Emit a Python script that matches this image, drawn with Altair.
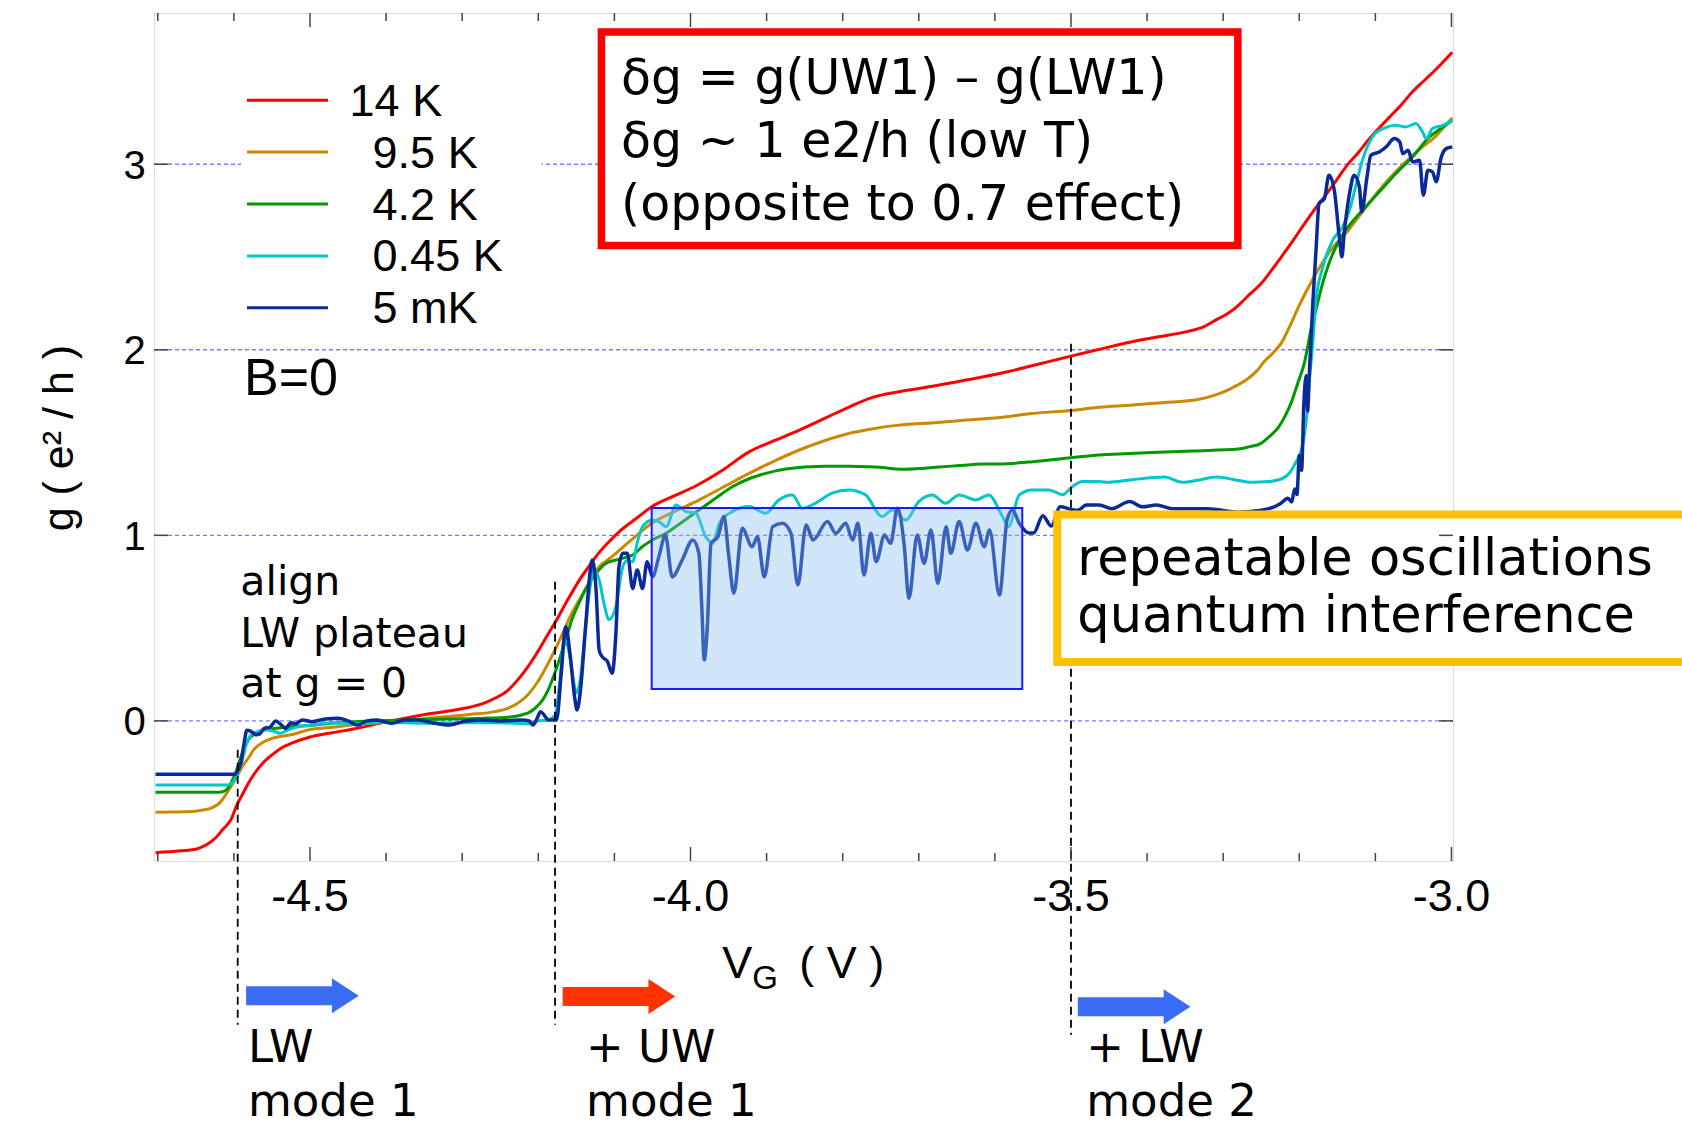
import altair as alt
import pandas as pd

# ---------------- data (V_G in volts, g in e^2/h) ----------------
SERIES = ["14 K", "9.5 K", "4.2 K", "0.45 K", "5 mK"]
COLORS = ["#ff0000", "#cc8800", "#009900", "#00c8c8", "#0a2a99"]
WIDTHS = [3, 3, 3, 3, 3.5]

RED_14K = [(-4.703,-0.710),(-4.670,-0.700),(-4.649,-0.690),(-4.635,-0.665),(-4.624,-0.630),(-4.615,-0.587),
    (-4.604,-0.533),(-4.596,-0.452),(-4.588,-0.390),(-4.581,-0.336),(-4.574,-0.290),(-4.560,-0.219),(-4.549,-0.180),
    (-4.538,-0.147),(-4.524,-0.120),(-4.501,-0.088),(-4.473,-0.065),(-4.448,-0.048),(-4.398,-0.004),(-4.347,0.036),
    (-4.297,0.068),(-4.275,0.090),(-4.257,0.122),(-4.240,0.165),(-4.227,0.221),(-4.214,0.290),(-4.202,0.365),
    (-4.189,0.455),(-4.176,0.544),(-4.161,0.655),(-4.146,0.759),(-4.133,0.835),(-4.121,0.903),(-4.106,0.970),
    (-4.091,1.029),(-4.070,1.095),(-4.051,1.154),(-4.020,1.215),(-3.995,1.262),(-3.960,1.345),(-3.923,1.450),
    (-3.890,1.510),(-3.857,1.567),(-3.824,1.630),(-3.791,1.693),(-3.760,1.745),(-3.726,1.774),(-3.680,1.805),
    (-3.638,1.837),(-3.594,1.872),(-3.550,1.915),(-3.500,1.966),(-3.460,2.005),(-3.423,2.041),(-3.385,2.070),
    (-3.348,2.098),(-3.325,2.125),(-3.308,2.164),(-3.294,2.195),(-3.280,2.240),(-3.265,2.300),(-3.251,2.353),
    (-3.237,2.425),(-3.223,2.504),(-3.208,2.590),(-3.194,2.674),(-3.180,2.755),(-3.165,2.835),(-3.151,2.915),
    (-3.137,2.995),(-3.122,3.065),(-3.108,3.137),(-3.094,3.200),(-3.080,3.260),(-3.065,3.325),(-3.051,3.392),
    (-3.036,3.450),(-3.022,3.505),(-2.999,3.604)]

ORANGE_9K5 = [(-4.703,-0.492),(-4.660,-0.490),(-4.639,-0.479),(-4.630,-0.470),(-4.619,-0.443),(-4.611,-0.400),
    (-4.604,-0.354),(-4.596,-0.300),(-4.589,-0.246),(-4.581,-0.200),(-4.574,-0.156),(-4.560,-0.111),(-4.549,-0.093),
    (-4.525,-0.075),(-4.501,-0.048),(-4.473,-0.035),(-4.423,-0.013),(-4.370,0.005),(-4.322,0.023),(-4.290,0.035),
    (-4.257,0.050),(-4.240,0.068),(-4.227,0.095),(-4.214,0.140),(-4.202,0.203),(-4.189,0.295),(-4.176,0.400),
    (-4.166,0.490),(-4.156,0.580),(-4.143,0.675),(-4.131,0.759),(-4.120,0.831),(-4.108,0.870),(-4.096,0.910),
    (-4.075,0.985),(-4.051,1.065),(-4.020,1.130),(-3.989,1.190),(-3.956,1.262),(-3.923,1.334),(-3.890,1.400),
    (-3.857,1.460),(-3.824,1.510),(-3.791,1.550),(-3.760,1.575),(-3.726,1.594),(-3.680,1.607),(-3.638,1.621),
    (-3.594,1.635),(-3.551,1.657),(-3.500,1.673),(-3.463,1.690),(-3.423,1.701),(-3.380,1.715),(-3.337,1.729),
    (-3.315,1.750),(-3.297,1.777),(-3.282,1.808),(-3.268,1.843),(-3.256,1.885),(-3.246,1.937),(-3.234,1.985),
    (-3.223,2.040),(-3.211,2.140),(-3.200,2.240),(-3.183,2.375),(-3.171,2.460),(-3.160,2.530),(-3.139,2.627),
    (-3.125,2.700),(-3.095,2.860),(-3.073,2.960),(-3.051,3.048),(-3.036,3.100),(-3.022,3.146),(-3.010,3.200),
    (-2.999,3.250)]

GREEN_4K2 = [(-4.703,-0.384),(-4.640,-0.384),(-4.619,-0.384),(-4.611,-0.375),(-4.604,-0.336),(-4.597,-0.270),
    (-4.589,-0.174),(-4.581,-0.102),(-4.571,-0.066),(-4.559,-0.048),(-4.545,-0.040),(-4.524,-0.030),(-4.501,-0.025),
    (-4.473,-0.013),(-4.420,0.000),(-4.373,0.005),(-4.320,0.010),(-4.272,0.014),(-4.240,0.020),(-4.222,0.032),
    (-4.210,0.050),(-4.202,0.077),(-4.194,0.115),(-4.187,0.167),(-4.179,0.250),(-4.171,0.346),(-4.163,0.450),
    (-4.156,0.544),(-4.146,0.640),(-4.136,0.723),(-4.124,0.795),(-4.111,0.849),(-4.098,0.867),(-4.086,0.880),
    (-4.076,0.894),(-4.063,0.940),(-4.050,0.975),(-4.032,1.011),(-4.010,1.075),(-3.989,1.136),(-3.967,1.200),
    (-3.945,1.262),(-3.923,1.305),(-3.901,1.334),(-3.879,1.355),(-3.857,1.366),(-3.824,1.372),(-3.791,1.373),
    (-3.770,1.370),(-3.748,1.366),(-3.730,1.358),(-3.717,1.356),(-3.700,1.360),(-3.682,1.366),(-3.650,1.375),
    (-3.616,1.384),(-3.594,1.385),(-3.550,1.397),(-3.500,1.418),(-3.463,1.433),(-3.430,1.440),(-3.394,1.446),
    (-3.340,1.455),(-3.280,1.465),(-3.265,1.478),(-3.251,1.494),(-3.240,1.530),(-3.228,1.579),(-3.219,1.640),
    (-3.211,1.711),(-3.202,1.820),(-3.194,1.918),(-3.183,2.140),(-3.176,2.250),(-3.171,2.334),(-3.161,2.465),
    (-3.150,2.570),(-3.137,2.655),(-3.117,2.752),(-3.095,2.850),(-3.073,2.950),(-3.051,3.040),(-3.029,3.147),
    (-3.015,3.190),(-2.999,3.235)]

CYAN_045K = [(-4.703,-0.345),(-4.640,-0.345),(-4.609,-0.345),(-4.599,-0.318),(-4.594,-0.270),(-4.589,-0.210),
    (-4.584,-0.130),(-4.579,-0.084),(-4.570,-0.060),(-4.559,-0.048),(-4.549,-0.055),(-4.539,-0.066),(-4.527,-0.045),
    (-4.514,-0.030),(-4.501,-0.025),(-4.473,-0.010),(-4.440,-0.015),(-4.400,-0.008),(-4.350,-0.012),(-4.300,-0.010),
    (-4.260,-0.010),(-4.230,-0.012),(-4.212,-0.016),(-4.200,0.000),(-4.188,0.005),(-4.178,0.030),(-4.172,0.200),
    (-4.166,0.440),(-4.160,0.380),(-4.154,0.220),(-4.150,0.150),(-4.145,0.220),(-4.138,0.500),(-4.132,0.720),
    (-4.127,0.813),(-4.120,0.760),(-4.113,0.620),(-4.107,0.546),(-4.098,0.617),(-4.089,0.831),(-4.083,0.865),
    (-4.076,0.858),(-4.070,0.960),(-4.063,1.047),(-4.050,1.083),(-4.040,1.070),(-4.032,1.047),(-4.019,1.164),
    (-4.006,1.128),(-3.993,1.119),(-3.980,0.993),(-3.971,0.957),(-3.962,1.065),(-3.945,1.128),(-3.923,1.155),
    (-3.901,1.119),(-3.884,1.191),(-3.866,1.218),(-3.853,1.146),(-3.836,1.173),(-3.814,1.227),(-3.792,1.245),
    (-3.770,1.218),(-3.748,1.101),(-3.735,1.137),(-3.717,1.083),(-3.700,1.182),(-3.682,1.218),(-3.665,1.173),
    (-3.647,1.218),(-3.625,1.191),(-3.608,1.218),(-3.590,1.101),(-3.582,1.047),(-3.568,1.218),(-3.551,1.245),
    (-3.529,1.245),(-3.511,1.219),(-3.498,1.263),(-3.485,1.290),(-3.463,1.290),(-3.451,1.286),(-3.420,1.300),
    (-3.377,1.314),(-3.354,1.286),(-3.330,1.300),(-3.308,1.314),(-3.285,1.300),(-3.262,1.286),(-3.240,1.290),
    (-3.223,1.305),(-3.212,1.340),(-3.205,1.390),(-3.198,1.450),(-3.194,1.522),(-3.190,1.650),(-3.187,1.819),
    (-3.182,2.050),(-3.178,2.267),(-3.169,2.447),(-3.156,2.591),(-3.143,2.663),(-3.134,2.752),(-3.125,2.896),
    (-3.117,3.022),(-3.104,3.147),(-3.090,3.192),(-3.073,3.210),(-3.060,3.201),(-3.047,3.219),(-3.038,3.174),
    (-3.033,3.138),(-3.025,3.192),(-3.011,3.210),(-2.999,3.237)]

BLUE_5MK = [(-4.703,-0.287),(-4.640,-0.287),(-4.599,-0.287),(-4.594,-0.260),(-4.591,-0.228),(-4.587,-0.130),
    (-4.583,-0.050),(-4.578,-0.055),(-4.571,-0.075),(-4.566,-0.070),(-4.560,-0.040),(-4.553,-0.035),(-4.545,0.000),
    (-4.538,-0.020),(-4.532,-0.040),(-4.525,-0.010),(-4.519,-0.015),(-4.510,0.005),(-4.498,-0.004),(-4.480,0.010),
    (-4.463,0.014),(-4.450,0.000),(-4.438,-0.022),(-4.425,0.000),(-4.412,0.005),(-4.393,-0.013),(-4.375,0.005),
    (-4.358,0.005),(-4.340,-0.010),(-4.317,-0.022),(-4.295,0.000),(-4.272,0.005),(-4.250,0.000),(-4.222,0.005),
    (-4.212,0.000),(-4.207,-0.022),(-4.202,0.010),(-4.197,0.050),(-4.192,0.030),(-4.187,0.005),(-4.176,0.005),
    (-4.170,0.250),(-4.164,0.508),(-4.158,0.350),(-4.152,0.120),(-4.149,0.059),(-4.145,0.150),(-4.138,0.500),
    (-4.132,0.800),(-4.129,0.867),(-4.124,0.700),(-4.120,0.380),(-4.116,0.346),(-4.109,0.320),(-4.103,0.257),
    (-4.098,0.472),(-4.094,0.831),(-4.089,0.903),(-4.083,0.903),(-4.076,0.714),(-4.070,0.813),(-4.063,0.714),
    (-4.057,0.858),(-4.050,0.777),(-4.041,0.894),(-4.033,1.002),(-4.024,0.776),(-4.011,0.867),(-3.997,0.975),
    (-3.989,0.903),(-3.985,0.600),(-3.982,0.329),(-3.978,0.500),(-3.973,0.957),(-3.964,0.993),(-3.956,1.101),
    (-3.950,0.900),(-3.943,0.688),(-3.932,1.038),(-3.919,0.939),(-3.912,0.993),(-3.903,0.776),(-3.892,1.047),
    (-3.879,1.065),(-3.868,1.011),(-3.859,0.732),(-3.848,1.056),(-3.839,0.975),(-3.820,1.074),(-3.809,1.011),
    (-3.796,1.065),(-3.787,0.975),(-3.780,1.065),(-3.772,0.786),(-3.763,1.011),(-3.756,0.858),(-3.745,1.002),
    (-3.737,0.957),(-3.728,1.146),(-3.719,0.939),(-3.713,0.660),(-3.702,1.002),(-3.693,0.849),(-3.684,1.029),
    (-3.675,0.741),(-3.664,1.047),(-3.658,0.903),(-3.647,1.074),(-3.636,0.921),(-3.625,1.065),(-3.614,0.939),
    (-3.607,1.029),(-3.594,0.678),(-3.584,1.083),(-3.577,1.137),(-3.568,1.065),(-3.555,1.012),(-3.549,1.013),
    (-3.537,1.106),(-3.526,1.050),(-3.514,1.154),(-3.500,1.140),(-3.491,1.135),(-3.480,1.163),(-3.463,1.163),
    (-3.446,1.144),(-3.423,1.182),(-3.406,1.154),(-3.388,1.163),(-3.366,1.144),(-3.320,1.144),(-3.280,1.125),
    (-3.240,1.144),(-3.225,1.170),(-3.215,1.200),(-3.210,1.180),(-3.206,1.250),(-3.203,1.220),(-3.200,1.430),
    (-3.197,1.350),(-3.194,1.710),(-3.191,1.860),(-3.189,1.670),(-3.187,1.854),(-3.182,2.267),(-3.178,2.537),
    (-3.174,2.788),(-3.167,2.815),(-3.161,2.941),(-3.154,2.860),(-3.147,2.591),(-3.144,2.501),(-3.141,2.627),
    (-3.134,2.842),(-3.128,2.941),(-3.121,2.878),(-3.118,2.744),(-3.111,2.932),(-3.106,3.048),(-3.095,3.066),
    (-3.086,3.093),(-3.075,3.138),(-3.068,3.120),(-3.064,3.057),(-3.057,3.075),(-3.051,3.012),(-3.042,3.021),
    (-3.037,2.833),(-3.031,2.968),(-3.025,2.959),(-3.020,2.905),(-3.014,3.030),(-3.007,3.084),(-2.999,3.093)]

CURVES = [RED_14K, ORANGE_9K5, GREEN_4K2, CYAN_045K, BLUE_5MK]

X_TICKS_MAJOR = [-4.5, -4.0, -3.5, -3.0]
X_TICK_LABELS = ["-4.5", "-4.0", "-3.5", "-3.0"]
X_TICKS_MINOR = [-4.7, -4.6, -4.4, -4.3, -4.2, -4.1, -3.9, -3.8, -3.7, -3.6, -3.4, -3.3, -3.2, -3.1]
Y_TICKS = [0, 1, 2, 3]
Y_TICK_LABELS = ["0", "1", "2", "3"]

MODE_EDGES = [-4.595, -4.178, -3.500]          # dashed markers (V)
MODE_EDGE_TOP = [-0.156, 0.750, 2.032]         # where each dashed marker starts (g)
MODE_EDGE_BOTTOM = [-1.637, -1.637, -1.691]
OSC_BOX = (-4.051, -3.564, 0.172, 1.148)       # highlighted oscillation window

# ---------------- layout ----------------
X_DOMAIN = [-4.705, -2.998]
Y_DOMAIN = [-0.755, 3.815]
W, H = 1299, 848
PXV = W / (X_DOMAIN[1] - X_DOMAIN[0])
PXG = H / (Y_DOMAIN[1] - Y_DOMAIN[0])

xsc = alt.Scale(domain=X_DOMAIN, nice=False, zero=False)
ysc = alt.Scale(domain=Y_DOMAIN, nice=False, zero=False)


def xe(f="v"):
    return alt.X(f"{f}:Q", scale=xsc, axis=None)


def ye(f="g"):
    return alt.Y(f"{f}:Q", scale=ysc, axis=None)


ARIAL = "Liberation Sans"
GOTHIC = "DejaVu Sans"


def texts(rows, size, font, align="left", angle=0, color="black"):
    df = pd.DataFrame(rows, columns=["v", "g", "t"])
    kw = dict(align=align, baseline="alphabetic", font=font, fontSize=size, color=color)
    if angle:
        kw["angle"] = angle
    return alt.Chart(df).mark_text(**kw).encode(x=xe(), y=ye(), text="t:N")


layers = []

# gridlines
grid_df = pd.DataFrame({"g": Y_TICKS, "v1": X_DOMAIN[0], "v2": X_DOMAIN[1]})
layers.append(alt.Chart(grid_df).mark_rule(color="#7a7aff", strokeDash=[4, 3], strokeWidth=1.4)
              .encode(x=xe("v1"), x2=alt.X2("v2"), y=ye()))

# legend background + legend
leg_bg = pd.DataFrame({"v1": [-4.5907], "v2": [-4.1955], "g1": [2.12], "g2": [3.48]})
layers.append(alt.Chart(leg_bg).mark_rect(color="white")
              .encode(x=xe("v1"), x2=alt.X2("v2"), y=ye("g1"), y2=alt.Y2("g2")))
LEG_G0, LEG_STEP = 3.345, 51.9 / PXG
DIGIT_PX = 23  # one-digit indent so labels line up as in the original legend
leg_df = pd.DataFrame({
    "series": SERIES,
    "g": [LEG_G0 - i * LEG_STEP for i in range(len(SERIES))],
})
leg_df["gt"] = leg_df["g"] - 15.5 / PXG
leg_df["v1"] = -4.5828
leg_df["v2"] = -4.4763
leg_df["vt"] = [-4.448 + (0 if len(s.split()[0].split(".")[0]) >= 2 else DIGIT_PX / PXV) for s in SERIES]
cscale = alt.Scale(domain=SERIES, range=COLORS)
layers.append(alt.Chart(leg_df).mark_rule(strokeWidth=3)
              .encode(x=xe("v1"), x2=alt.X2("v2"), y=ye(),
                      color=alt.Color("series:N", scale=cscale, legend=None)))
layers.append(alt.Chart(leg_df).mark_text(align="left", baseline="alphabetic", font=ARIAL, fontSize=45)
              .encode(x=xe("vt"), y=ye("gt"), text="series:N"))

# curves (red drawn first, 5 mK on top)
for name, pts, col, sw in zip(SERIES, CURVES, COLORS, WIDTHS):
    df = pd.DataFrame(pts, columns=["v", "g"])
    df["i"] = range(len(df))
    layers.append(alt.Chart(df).mark_line(color=col, strokeWidth=sw, interpolate="monotone")
                  .encode(x=xe(), y=ye(), order="i:Q"))

# highlighted oscillation window (translucent overlay)
box_df = pd.DataFrame({"v1": [OSC_BOX[0]], "v2": [OSC_BOX[1]], "g1": [OSC_BOX[2]], "g2": [OSC_BOX[3]]})
layers.append(alt.Chart(box_df).mark_rect(fill="#89bdf3", fillOpacity=0.38, stroke="#1a1aff", strokeWidth=2)
              .encode(x=xe("v1"), x2=alt.X2("v2"), y=ye("g1"), y2=alt.Y2("g2")))

# dashed mode markers
dash_df = pd.DataFrame({"v": MODE_EDGES, "g1": MODE_EDGE_TOP, "g2": MODE_EDGE_BOTTOM})
layers.append(alt.Chart(dash_df).mark_rule(color="black", strokeDash=[8, 5], strokeWidth=1.8)
              .encode(x=xe(), y=ye("g1"), y2=alt.Y2("g2")))

# red annotation box
red_box = pd.DataFrame({"v1": [-4.1171], "v2": [-3.2807], "g1": [2.562], "g2": [3.712]})
layers.append(alt.Chart(red_box).mark_rect(fill="white", stroke="#ff0000", strokeWidth=7.5)
              .encode(x=xe("v1"), x2=alt.X2("v2"), y=ye("g1"), y2=alt.Y2("g2")))
layers.append(texts([(-4.0912, 3.381, "\u03b4g = g(UW1) \u2013 g(LW1)"),
                     (-4.0912, 3.039, "\u03b4g ~ 1 e2/h (low T)"),
                     (-4.0912, 2.698, "(opposite to 0.7 effect)")], 49, GOTHIC))

# yellow annotation box
yel_box = pd.DataFrame({"v1": [-3.518], "v2": [-2.640], "g1": [0.3178], "g2": [1.1122]})
layers.append(alt.Chart(yel_box).mark_rect(fill="white", stroke="#ffc000", strokeWidth=8)
              .encode(x=xe("v1"), x2=alt.X2("v2"), y=ye("g1"), y2=alt.Y2("g2")))
layers.append(texts([(-3.4917, 0.786, "repeatable oscillations"),
                     (-3.4917, 0.481, "quantum interference")], 51, GOTHIC))

# other annotations
layers.append(texts([(-4.5868, 1.757, "B=0")], 52, ARIAL))
layers.append(texts([(-4.5915, 0.679, "align"), (-4.5915, 0.400, "LW plateau"),
                     (-4.5915, 0.131, "at g = 0")], 41, GOTHIC))
layers.append(texts([(-4.5815, -1.840, "LW"), (-4.5815, -2.128, "mode 1"),
                     (-4.1372, -1.840, "+ UW"), (-4.1372, -2.128, "mode 1"),
                     (-3.4799, -1.840, "+ LW"), (-3.4799, -2.128, "mode 2")], 45, GOTHIC))

# arrows
ARROW = "M-1,-0.169L0.524,-0.169L0.524,-0.311L1,0L0.524,0.311L0.524,0.169L-1,0.169Z"
arr_df = pd.DataFrame({"v": [-4.510, -4.094, -3.417], "g": [-1.481, -1.485, -1.540],
                       "c": ["#3b6cf6", "#ff3300", "#3b6cf6"]})
layers.append(alt.Chart(arr_df).mark_point(shape=ARROW, filled=True, size=12679, opacity=1, strokeWidth=0)
              .encode(x=xe(), y=ye(), color=alt.Color("c:N", scale=None)))

# inward ticks (frame is the view stroke)
MAJ, MIN_ = 14, 8
xt = pd.DataFrame({"v": X_TICKS_MAJOR + X_TICKS_MINOR,
                   "L": [MAJ] * len(X_TICKS_MAJOR) + [MIN_] * len(X_TICKS_MINOR)})
xb = xt.assign(g1=Y_DOMAIN[0], g2=Y_DOMAIN[0] + xt["L"] / PXG)
xtop = xt.assign(g1=Y_DOMAIN[1], g2=Y_DOMAIN[1] - xt["L"] / PXG)
for d in (xb, xtop):
    layers.append(alt.Chart(d).mark_rule(color="#444444", strokeWidth=1.5)
                  .encode(x=xe(), y=ye("g1"), y2=alt.Y2("g2")))
yt = pd.DataFrame({"g": Y_TICKS})
yl = yt.assign(v1=X_DOMAIN[0], v2=X_DOMAIN[0] + MAJ / PXV)
yr = yt.assign(v1=X_DOMAIN[1], v2=X_DOMAIN[1] - MAJ / PXV)
for d in (yl, yr):
    layers.append(alt.Chart(d).mark_rule(color="#444444", strokeWidth=1.5)
                  .encode(x=xe("v1"), x2=alt.X2("v2"), y=ye()))

# tick labels
layers.append(texts([(v, -1.027, t) for v, t in zip(X_TICKS_MAJOR, X_TICK_LABELS)], 45, ARIAL, align="center"))
layers.append(texts([(-4.716, g - 0.078, t) for g, t in zip(Y_TICKS, Y_TICK_LABELS)], 40, ARIAL, align="right"))

# axis titles
layers.append(texts([(-4.8116, 1.524, "g ( e\u00b2 / h )")], 43, ARIAL, align="center", angle=270))
layers.append(texts([(-3.9584, -1.384, "V"), (-3.8572, -1.384, "( V )")], 45, ARIAL))
layers.append(texts([(-3.9190, -1.443, "G")], 33, ARIAL))

chart = (alt.layer(*layers)
         .properties(width=W, height=H, autosize="none",
                     padding={"left": 154, "top": 13, "right": 229, "bottom": 264})
         .configure_view(stroke="#555555", strokeWidth=2)
         .configure(background="white"))

chart.save("out.html", embed_options={"renderer": "svg", "actions": False})
